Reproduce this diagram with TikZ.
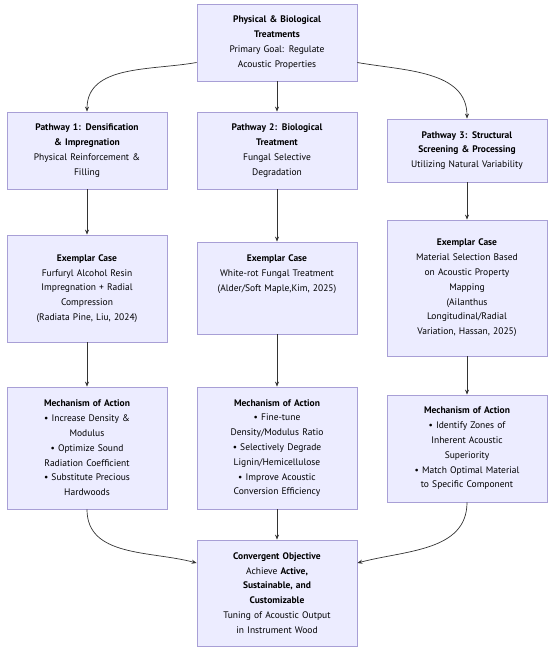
\documentclass[tikz,border=0pt]{standalone}
\usepackage{fontspec}
\setmainfont{PT Sans}
\usepackage{tikz}
\usetikzlibrary{arrows.meta,positioning,calc}

\definecolor{boxfill}{HTML}{ECECFF}
\definecolor{boxline}{HTML}{A89FD6}
\definecolor{arrline}{HTML}{333333}

\tikzset{
    box/.style={draw=boxline, fill=boxfill, line width=0.8pt, align=center,
        minimum width=160pt, text width=150pt, inner sep=0pt,
        font=\fontsize{9.5}{14.8}\selectfont},
    arr/.style={-{Stealth[length=5pt,width=4pt]}, draw=arrline, line width=0.7pt}
}

\begin{document}
\begin{tikzpicture}[x=1pt, y=-1pt]
    \useasboundingbox (0,0) rectangle (550,651);

    % Goal at the top
    \node[box, minimum height=77pt] (top) at (277,42.5)
        {\textbf{Physical \& Biological}\\ \textbf{Treatments}\\ Primary Goal: Regulate\\ Acoustic Properties};

    % Three pathways
    \node[box, minimum height=77pt] (path1) at (87,150.5)
        {\textbf{Pathway 1: Densification}\\ \textbf{\& Impregnation}\\ Physical Reinforcement \&\\ Filling};
    \node[box, minimum height=77pt] (path2) at (277,150.5)
        {\textbf{Pathway 2: Biological}\\ \textbf{Treatment}\\ Fungal Selective\\ Degradation};
    \node[box, minimum height=63pt] (path3) at (467,150.5)
        {\textbf{Pathway 3: Structural}\\ \textbf{Screening \& Processing}\\ Utilizing Natural Variability};

    % Exemplar cases
    \node[box, minimum height=107pt] (case1) at (87,288.5)
        {\textbf{Exemplar Case}\\ Furfuryl Alcohol Resin\\ Impregnation + Radial\\ Compression\\ (Radiata Pine, Liu, 2024)};
    \node[box, minimum height=92pt] (case2) at (277,288)
        {\textbf{Exemplar Case}\\ White-rot Fungal Treatment\\ (Alder/Soft Maple,Kim, 2025)\\ \mbox{}\\ \mbox{}};
    \node[box, minimum height=136pt] (case3) at (467,288)
        {\textbf{Exemplar Case}\\ Material Selection Based\\ on Acoustic Property\\ Mapping\\ (Ailanthus\\ Longitudinal/Radial\\ Variation, Hassan, 2025)};

    % Mechanisms
    \node[box, minimum height=122pt] (mech1) at (87,448)
        {\textbf{Mechanism of Action}\\ • Increase Density \&\\ Modulus\\ • Optimize Sound\\ Radiation Coefficient\\ • Substitute Precious\\ Hardwoods};
    \node[box, minimum height=122pt] (mech2) at (277,448)
        {\textbf{Mechanism of Action}\\ • Fine-tune\\ Density/Modulus Ratio\\ • Selectively Degrade\\ Lignin/Hemicellulose\\ • Improve Acoustic\\ Conversion Efficiency};
    \node[box, minimum height=107pt] (mech3) at (467,448.5)
        {\textbf{Mechanism of Action}\\ • Identify Zones of\\ Inherent Acoustic\\ Superiority\\ • Match Optimal Material\\ to Specific Component};

    % Convergent objective
    \node[box, minimum height=106pt] (final) at (277,593)
        {\textbf{Convergent Objective}\\ Achieve \textbf{Active,}\\ \textbf{Sustainable, and}\\ \textbf{Customizable}\\ Tuning of Acoustic Output\\ in Instrument Wood};

    % Connectors
    \draw[arr] ([yshift=-20pt]top.west) to[out=190, in=90] (path1.north);
    \draw[arr] (top) -- (path2);
    \draw[arr] ([yshift=-20pt]top.east) to[out=-10, in=90] (path3.north);

    \draw[arr] (path1) -- (case1);
    \draw[arr] (path2) -- (case2);
    \draw[arr] (path3) -- (case3);

    \draw[arr] (case1) -- (mech1);
    \draw[arr] (case2) -- (mech2);
    \draw[arr] (case3) -- (mech3);

    \draw[arr] (mech1.south) to[out=-90, in=165] ([yshift=30pt]final.west);
    \draw[arr] (mech2) -- (final);
    \draw[arr] (mech3.south) to[out=-90, in=15] ([yshift=30pt]final.east);
\end{tikzpicture}
\end{document}
